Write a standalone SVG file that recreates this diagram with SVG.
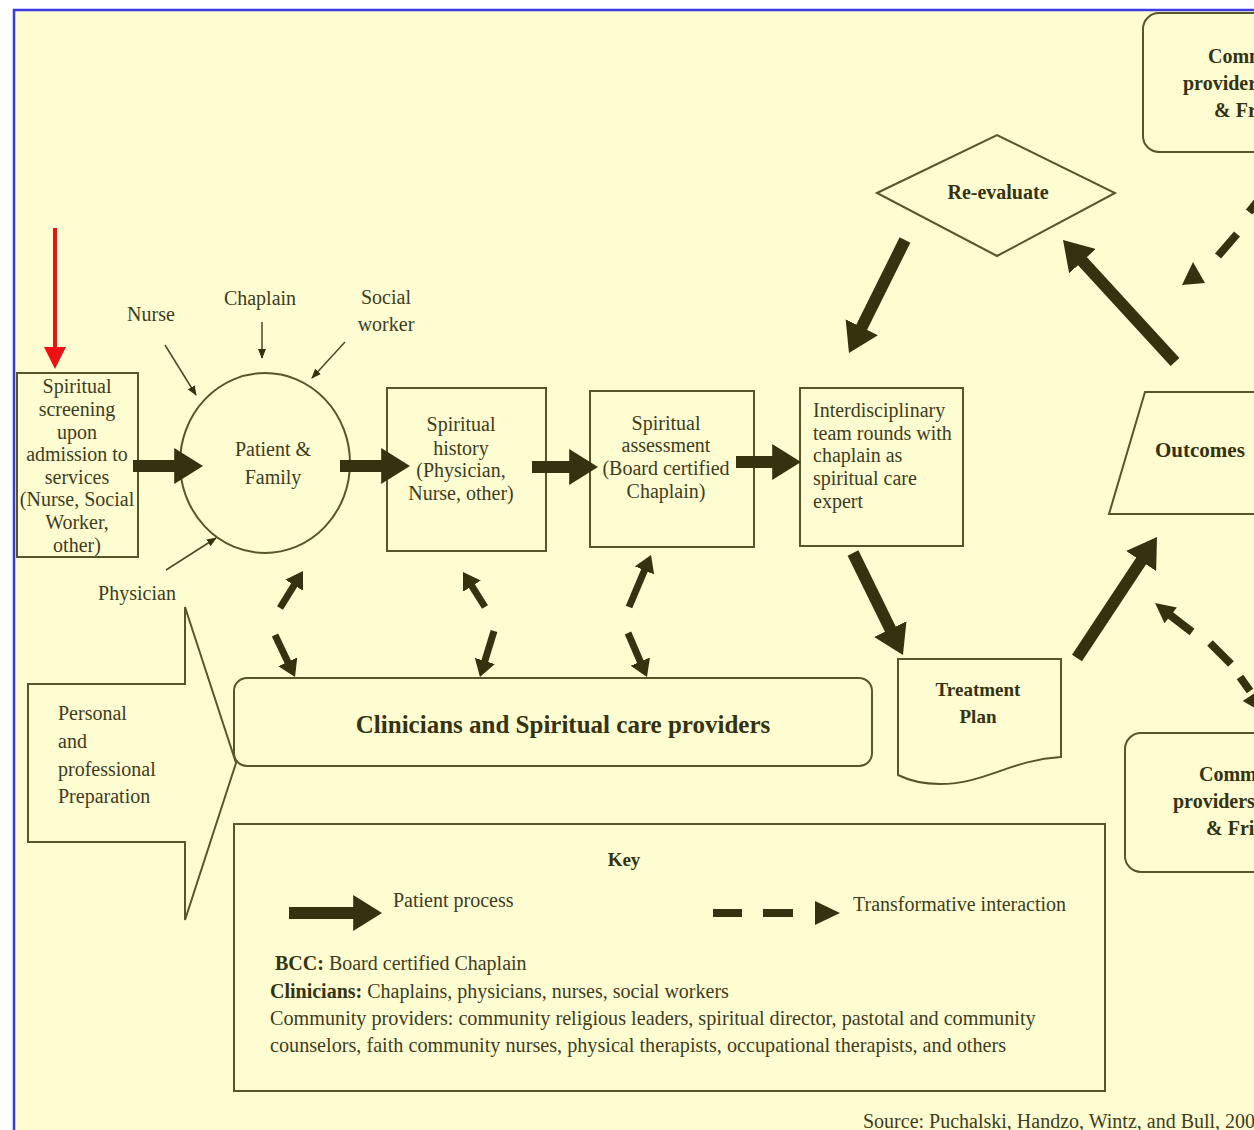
<svg xmlns="http://www.w3.org/2000/svg" width="1254" height="1130" viewBox="0 0 1254 1130">
<style>
.bg{fill:#fefdd1}
.box{fill:none;stroke:#58552a;stroke-width:2}
.thin{fill:none;stroke:#58552a;stroke-width:1.5}
.t{font-family:"Liberation Serif","Times New Roman",serif;font-size:20px;fill:#3e3c1c}
.c{text-anchor:middle}
.b{font-weight:bold;fill:#35330f}
.big{fill:none;stroke:#36320f;stroke-width:12}
.sm{fill:none;stroke:#36320f;stroke-width:7}
.dash{fill:none;stroke:#36320f;stroke-width:8}
.head{fill:#36320f}
.ln{fill:none;stroke:#4a4724;stroke-width:1.5}
</style>
<defs>
<marker id="ah" markerUnits="strokeWidth" viewBox="0 -1.5 2.4 3" markerWidth="2.4" markerHeight="3" refX="1.4" refY="0" orient="auto">
<path d="M0,-1.5 L2.4,0 L0,1.5 Z" fill="#36320f"/>
</marker>
<marker id="th" markerUnits="userSpaceOnUse" viewBox="0 -4 10 8" markerWidth="10" markerHeight="8" refX="9" refY="0" orient="auto">
<path d="M0,-4 L10,0 L0,4 Z" fill="#36320f"/>
</marker>
</defs>
<rect x="0" y="0" width="1254" height="1130" fill="#ffffff"/>
<rect class="bg" x="14" y="10" width="1240" height="1120"/>
<path d="M14,1130 V10 H1254" fill="none" stroke="#3b3be6" stroke-width="2.5"/>

<g id="red-pointer">
<line x1="55" y1="228" x2="55" y2="350" stroke="#ee1111" stroke-width="4"/>
<path d="M44,347 L66,347 L55,369 Z" fill="#ee1111"/>
</g>

<g id="screening">
<rect class="box" x="17" y="373" width="121" height="184"/>
<text class="t c" x="77" y="393">Spiritual</text>
<text class="t c" x="77" y="416">screening</text>
<text class="t c" x="77" y="439">upon</text>
<text class="t c" x="77" y="461">admission to</text>
<text class="t c" x="77" y="484">services</text>
<text class="t c" x="77" y="506">(Nurse, Social</text>
<text class="t c" x="77" y="529">Worker,</text>
<text class="t c" x="77" y="552">other)</text>
</g>

<g id="patient-family">
<ellipse class="box" cx="265" cy="463" rx="85" ry="90"/>
<text class="t c" x="273" y="456">Patient &amp;</text>
<text class="t c" x="273" y="484">Family</text>
</g>

<g id="nurse"><text class="t c" x="151" y="321">Nurse</text></g>
<g id="chaplain"><text class="t c" x="260" y="305">Chaplain</text></g>
<g id="social-worker">
<text class="t c" x="386" y="304">Social</text>
<text class="t c" x="386" y="331">worker</text>
</g>
<g id="physician"><text class="t c" x="137" y="600">Physician</text></g>

<g id="spiritual-history">
<rect class="box" x="387" y="388" width="159" height="163"/>
<text class="t c" x="461" y="431">Spiritual</text>
<text class="t c" x="461" y="455">history</text>
<text class="t c" x="461" y="477">(Physician,</text>
<text class="t c" x="461" y="500">Nurse, other)</text>
</g>

<g id="spiritual-assessment">
<rect class="box" x="590" y="391" width="164" height="156"/>
<text class="t c" x="666" y="430">Spiritual</text>
<text class="t c" x="666" y="452">assessment</text>
<text class="t c" x="666" y="475">(Board certified</text>
<text class="t c" x="666" y="498">Chaplain)</text>
</g>

<g id="interdisciplinary">
<rect class="box" x="800" y="388" width="163" height="158"/>
<text class="t" x="813" y="417">Interdisciplinary</text>
<text class="t" x="813" y="440">team rounds with</text>
<text class="t" x="813" y="462">chaplain as</text>
<text class="t" x="813" y="485">spiritual care</text>
<text class="t" x="813" y="508">expert</text>
</g>

<g id="re-evaluate">
<polygon class="box" points="877,193 997,135 1115,193 997,256"/>
<text class="t c b" x="998" y="199">Re-evaluate</text>
</g>

<g id="community-top">
<rect class="box" x="1143" y="13" width="200" height="139" rx="16"/>
<text class="t b" x="1208" y="63">Community</text>
<text class="t b" x="1183" y="90">providers</text>
<text class="t b" x="1214" y="117">&amp; Friends</text>
</g>

<g id="outcomes">
<polygon class="box" points="1145,392 1300,392 1300,514 1109,514"/>
<text class="t b" x="1155" y="457" style="font-size:21px">Outcomes</text>
</g>

<g id="treatment-plan">
<path class="box" d="M898,659 H1061 V757 C1010,760 985,784 940,784 C920,784 906,779 898,775 Z"/>
<text class="t c b" x="978" y="696" style="font-size:19px">Treatment</text>
<text class="t c b" x="978" y="723" style="font-size:19px">Plan</text>
</g>

<g id="community-bottom">
<rect class="box" x="1125" y="733" width="200" height="139" rx="16"/>
<text class="t b" x="1199" y="781">Community</text>
<text class="t b" x="1173" y="808">providers</text>
<text class="t b" x="1206" y="835">&amp; Friends</text>
</g>

<g id="clinicians">
<rect class="box" x="234" y="678" width="638" height="88" rx="13"/>
<text class="t c b" x="563" y="733" style="font-size:25px">Clinicians and Spiritual care providers</text>
</g>

<g id="preparation">
<polygon class="box" points="28,684 185,684 185,607 236,763 185,920 185,842 28,842"/>
<text class="t" x="58" y="720">Personal</text>
<text class="t" x="58" y="748">and</text>
<text class="t" x="58" y="776">professional</text>
<text class="t" x="58" y="803">Preparation</text>
</g>

<g id="key">
<rect class="box" x="234" y="824" width="871" height="267"/>
<text class="t c b" x="624" y="866" style="font-size:19px">Key</text>
<line class="big" x1="289" y1="913" x2="370" y2="913" marker-end="url(#ah)"/>
<text class="t" x="393" y="907">Patient process</text>
<line class="dash" x1="713" y1="913" x2="742" y2="913"/>
<line class="dash" x1="763" y1="913" x2="793" y2="913"/>
<path class="head" d="M815,901 L840,913 L815,925 Z"/>
<text class="t" x="853" y="911">Transformative interaction</text>
<text class="t" x="275" y="970"><tspan class="b">BCC:</tspan> Board certified Chaplain</text>
<text class="t" x="270" y="998"><tspan class="b">Clinicians:</tspan> Chaplains, physicians, nurses, social workers</text>
<text class="t" x="270" y="1025" style="font-size:20.2px">Community providers: community religious leaders, spiritual director, pastotal and community</text>
<text class="t" x="270" y="1052" style="font-size:20.2px">counselors, faith community nurses, physical therapists, occupational therapists, and others</text>
</g>

<g id="source">
<text class="t" x="863" y="1128">Source: Puchalski, Handzo, Wintz, and Bull, 2006</text>
</g>

<g id="connectors">
<line class="ln" x1="165" y1="345" x2="196" y2="395" marker-end="url(#th)"/>
<line class="ln" x1="262" y1="322" x2="262" y2="358" marker-end="url(#th)"/>
<line class="ln" x1="345" y1="342" x2="312" y2="378" marker-end="url(#th)"/>
<line class="ln" x1="166" y1="570" x2="216" y2="538" marker-end="url(#th)"/>

<line class="big" x1="133" y1="466" x2="191" y2="466" marker-end="url(#ah)"/>
<line class="big" x1="340" y1="466" x2="398" y2="466" marker-end="url(#ah)"/>
<line class="big" x1="532" y1="467" x2="586" y2="467" marker-end="url(#ah)"/>
<line class="big" x1="736" y1="462" x2="789" y2="462" marker-end="url(#ah)"/>

<line class="big" x1="905" y1="240" x2="854.3" y2="342.2" marker-end="url(#ah)"/>
<line class="big" x1="853" y1="553" x2="897.7" y2="644.2" marker-end="url(#ah)"/>
<line class="big" x1="1077" y1="658" x2="1150.4" y2="547" marker-end="url(#ah)"/>
<line class="big" x1="1175" y1="362" x2="1071.1" y2="248.8" marker-end="url(#ah)"/>

<line class="sm" x1="280" y1="608" x2="299.3" y2="576.9" marker-end="url(#ah)"/>
<line class="sm" x1="275" y1="635" x2="292" y2="670.7" marker-end="url(#ah)"/>
<line class="sm" x1="485" y1="607" x2="466.7" y2="577.9" marker-end="url(#ah)"/>
<line class="sm" x1="494" y1="631" x2="482" y2="670.3" marker-end="url(#ah)"/>
<line class="sm" x1="629" y1="607" x2="648.3" y2="561.4" marker-end="url(#ah)"/>
<line class="sm" x1="628" y1="633" x2="644.2" y2="670.6" marker-end="url(#ah)"/>

<line class="dash" x1="1262" y1="196" x2="1249" y2="212"/>
<line class="dash" x1="1237" y1="234" x2="1218" y2="256"/>
<path class="head" d="M1182,285 L1193,262 L1205,283 Z"/>

<path class="head" d="M1155,603 L1176.9,607.4 L1164.5,623.2 Z"/>
<line class="dash" x1="1170" y1="615" x2="1192" y2="632"/>
<line class="dash" x1="1210" y1="643" x2="1231" y2="664"/>
<line class="dash" x1="1240" y1="677" x2="1250" y2="691"/>
<path class="head" d="M1262,712 L1259.3,689.9 L1242.7,700.9 Z"/>
</g>
</svg>
